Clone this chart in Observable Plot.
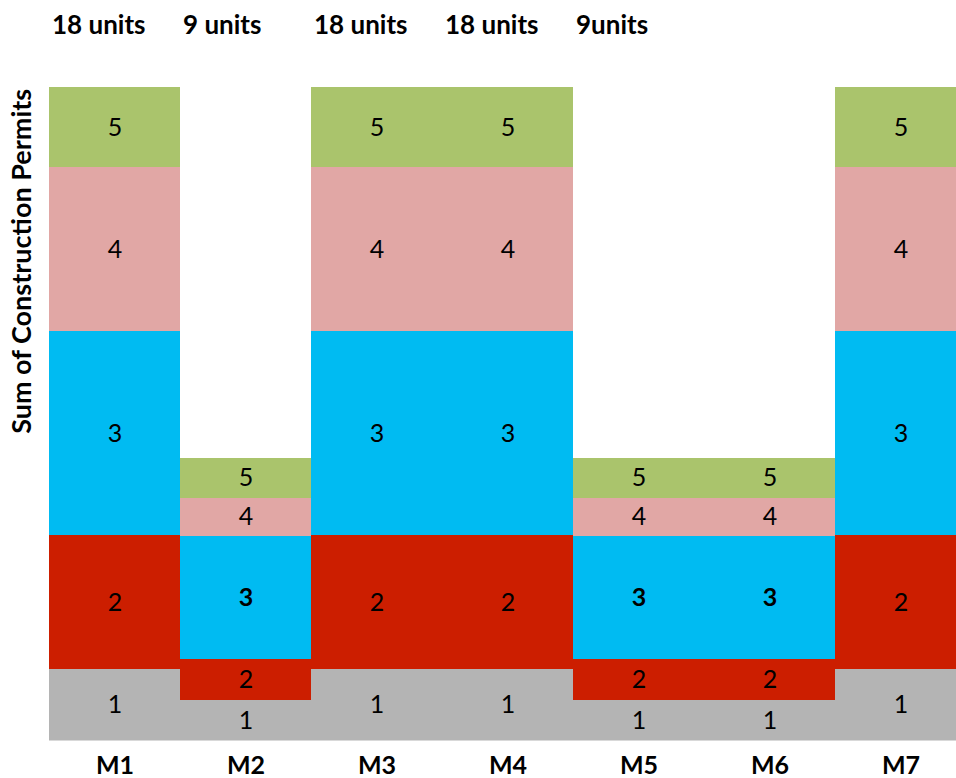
<!DOCTYPE html>
<html><head><meta charset="utf-8">
<script src="https://cdn.jsdelivr.net/npm/d3@7"></script>
<script src="https://cdn.jsdelivr.net/npm/@observablehq/plot@0.6"></script>
<style>
html,body{margin:0;padding:0;background:#fff;overflow:hidden;font-family:Lato,sans-serif}
#chart svg{display:block}
</style>
</head><body><div id="chart"></div>
<script>
const columns = ["M1","M2","M3","M4","M5","M6","M7"];
const seriesNames = [1, 2, 3, 4, 5];
const series1 = [1.96, 1.10, 1.96, 1.96, 1.10, 1.10, 1.96];
const series2 = [3.68, 1.13, 3.68, 3.68, 1.13, 1.13, 3.68];
const series3 = [5.63, 3.40, 5.63, 5.63, 3.40, 3.40, 5.63];
const series4 = [4.52, 1.05, 4.52, 4.52, 1.05, 1.05, 4.52];
const series5 = [2.21, 1.11, 2.21, 2.21, 1.11, 1.11, 2.21];
const unitLabels = ["18 units", "9 units", "18 units", "18 units", "9units"];
const yTitle = "Sum of Construction Permits";
const seriesColors = ["#b4b4b4", "#cc1e00", "#00bbf2", "#e1a7a5", "#aac46c"];

const seriesValues = [series1, series2, series3, series4, series5];
const rows = [];
columns.forEach((c, i) => seriesNames.forEach((s, j) => rows.push({col: c, series: s, value: seriesValues[j][i]})));
const totals = new Map(columns.map((c, i) => [c, d3.sum(seriesValues, v => v[i])]));
const maxTotal = d3.max(totals.values());
const isBold = d => d.series === 3 && totals.get(d.col) < maxTotal - 1;

const W = 956, H = 778, mLeft = 49, xEnd = 966, mTop = 87.3, mBottom = 38;
const bw = (xEnd - mLeft) / columns.length;

const chart = Plot.plot({
  width: W, height: H,
  marginTop: mTop, marginBottom: mBottom, marginLeft: mLeft, marginRight: 0,
  style: {fontFamily: "Lato, sans-serif", color: "#000", background: "#fff"},
  x: {domain: columns, range: [mLeft, xEnd], padding: 0, label: null},
  y: {domain: [0, maxTotal], axis: null},
  color: {domain: seriesNames, range: seriesColors},
  marks: [
    Plot.barY(rows, Plot.stackY({x: "col", y: "value", fill: "series", shapeRendering: "crispEdges"})),
    Plot.ruleY([0], {stroke: "#d9d9d9"}),
    Plot.text(rows, Plot.stackY({x: "col", y: "value", text: d => isBold(d) ? null : String(d.series), fontSize: 25, fill: "#000"})),
    Plot.text(rows, Plot.stackY({x: "col", y: "value", text: d => isBold(d) ? String(d.series) : null, fontSize: 25, fontWeight: "bold", fill: "#000"})),
    Plot.text(unitLabels, {x: (d, i) => columns[i], text: d => d, frameAnchor: "top", textAnchor: "start", lineAnchor: "middle", dx: -bw / 2 + 2.5, dy: -62, fontSize: 26, fontWeight: "bold", fill: "#000"}),
    Plot.text([yTitle], {frameAnchor: "top-left", rotate: -90, textAnchor: "end", lineAnchor: "middle", dx: -27, dy: 1, fontSize: 27, fontWeight: "bold", fill: "#000"}),
    Plot.axisX({tickSize: 0, tickPadding: 16, fontSize: 25, fontWeight: "bold", label: null})
  ]
});
document.getElementById("chart").appendChild(chart);
</script>
</body></html>
